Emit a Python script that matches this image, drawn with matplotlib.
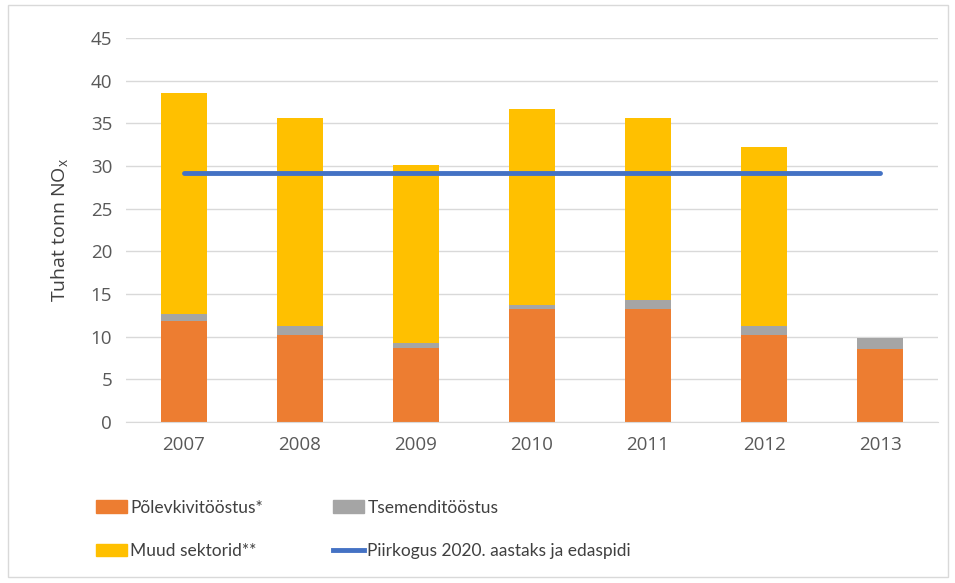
import numpy as np
import matplotlib.pyplot as plt
from matplotlib.patches import Rectangle
from matplotlib.lines import Line2D

years = ["2007", "2008", "2009", "2010", "2011", "2012", "2013"]
polevkivi = [11.8, 10.25, 8.7, 13.2, 13.2, 10.25, 8.6]
tsement = [0.9, 1.05, 0.5, 0.55, 1.15, 0.95, 1.3]
muud = [25.8, 24.3, 20.9, 22.9, 21.25, 21.0, 0.0]
piirkogus = [29.2] * 7

plt.rcParams['font.family'] = ['Open Sans', 'DejaVu Sans']

fig = plt.figure(figsize=(9.55, 5.83), dpi=100)
ax = fig.add_axes([126 / 955, 1 - 422 / 583, 812 / 955, 384 / 583])

x = np.arange(len(years))
w = 0.4
b1 = np.array(polevkivi)
b2 = b1 + np.array(tsement)
ax.bar(x, polevkivi, w, color="#ed7d31", zorder=2)
ax.bar(x, tsement, w, bottom=b1, color="#a5a5a5", zorder=2)
ax.bar(x, muud, w, bottom=b2, color="#ffc000", zorder=2)
ax.plot(x, piirkogus, color="#4472c4", lw=3.5, solid_capstyle="round", zorder=3)

ax.set_xlim(-0.5, 6.5)
ax.set_ylim(0, 45)
ax.set_yticks(range(0, 46, 5))
ax.set_xticks(x)
ax.set_xticklabels(years)
ax.grid(axis="y", color="#d9d9d9", lw=1, zorder=0)
for s in ["top", "right", "left"]:
    ax.spines[s].set_visible(False)
ax.spines["bottom"].set_color("#d9d9d9")
ax.tick_params(axis="both", length=0, labelsize=13.5, colors="#595959", pad=10)
ax.set_ylabel("Tuhat tonn NO$_\\mathregular{x}$", fontsize=14, color="#404040", labelpad=14)

# legend order is column-major
handles = [
    Rectangle((0, 0), 1, 1, color="#ed7d31"),
    Rectangle((0, 0), 1, 1, color="#ffc000"),
    Rectangle((0, 0), 1, 1, color="#a5a5a5"),
    Line2D([0], [0], color="#4472c4", lw=3.5),
]
labels = ["Põlevkivitööstus*", "Muud sektorid**", "Tsemenditööstus",
          "Piirkogus 2020. aastaks ja edaspidi"]
fig.legend(handles, labels, ncol=2, loc="upper left",
           bbox_to_anchor=(80 / 955, 1 - 484 / 583), frameon=False,
           prop={"family": ["Lato", "DejaVu Sans"], "size": 12.5},
           labelcolor="#404040", handlelength=1.8,
           handletextpad=0.2, columnspacing=4.0, labelspacing=1.6)

fig.patches.append(Rectangle((8 / 955, 6 / 583), 940 / 955, 572 / 583,
                             transform=fig.transFigure, fill=False,
                             edgecolor="#d9d9d9", lw=1))

fig.savefig("out.png", dpi=100)
